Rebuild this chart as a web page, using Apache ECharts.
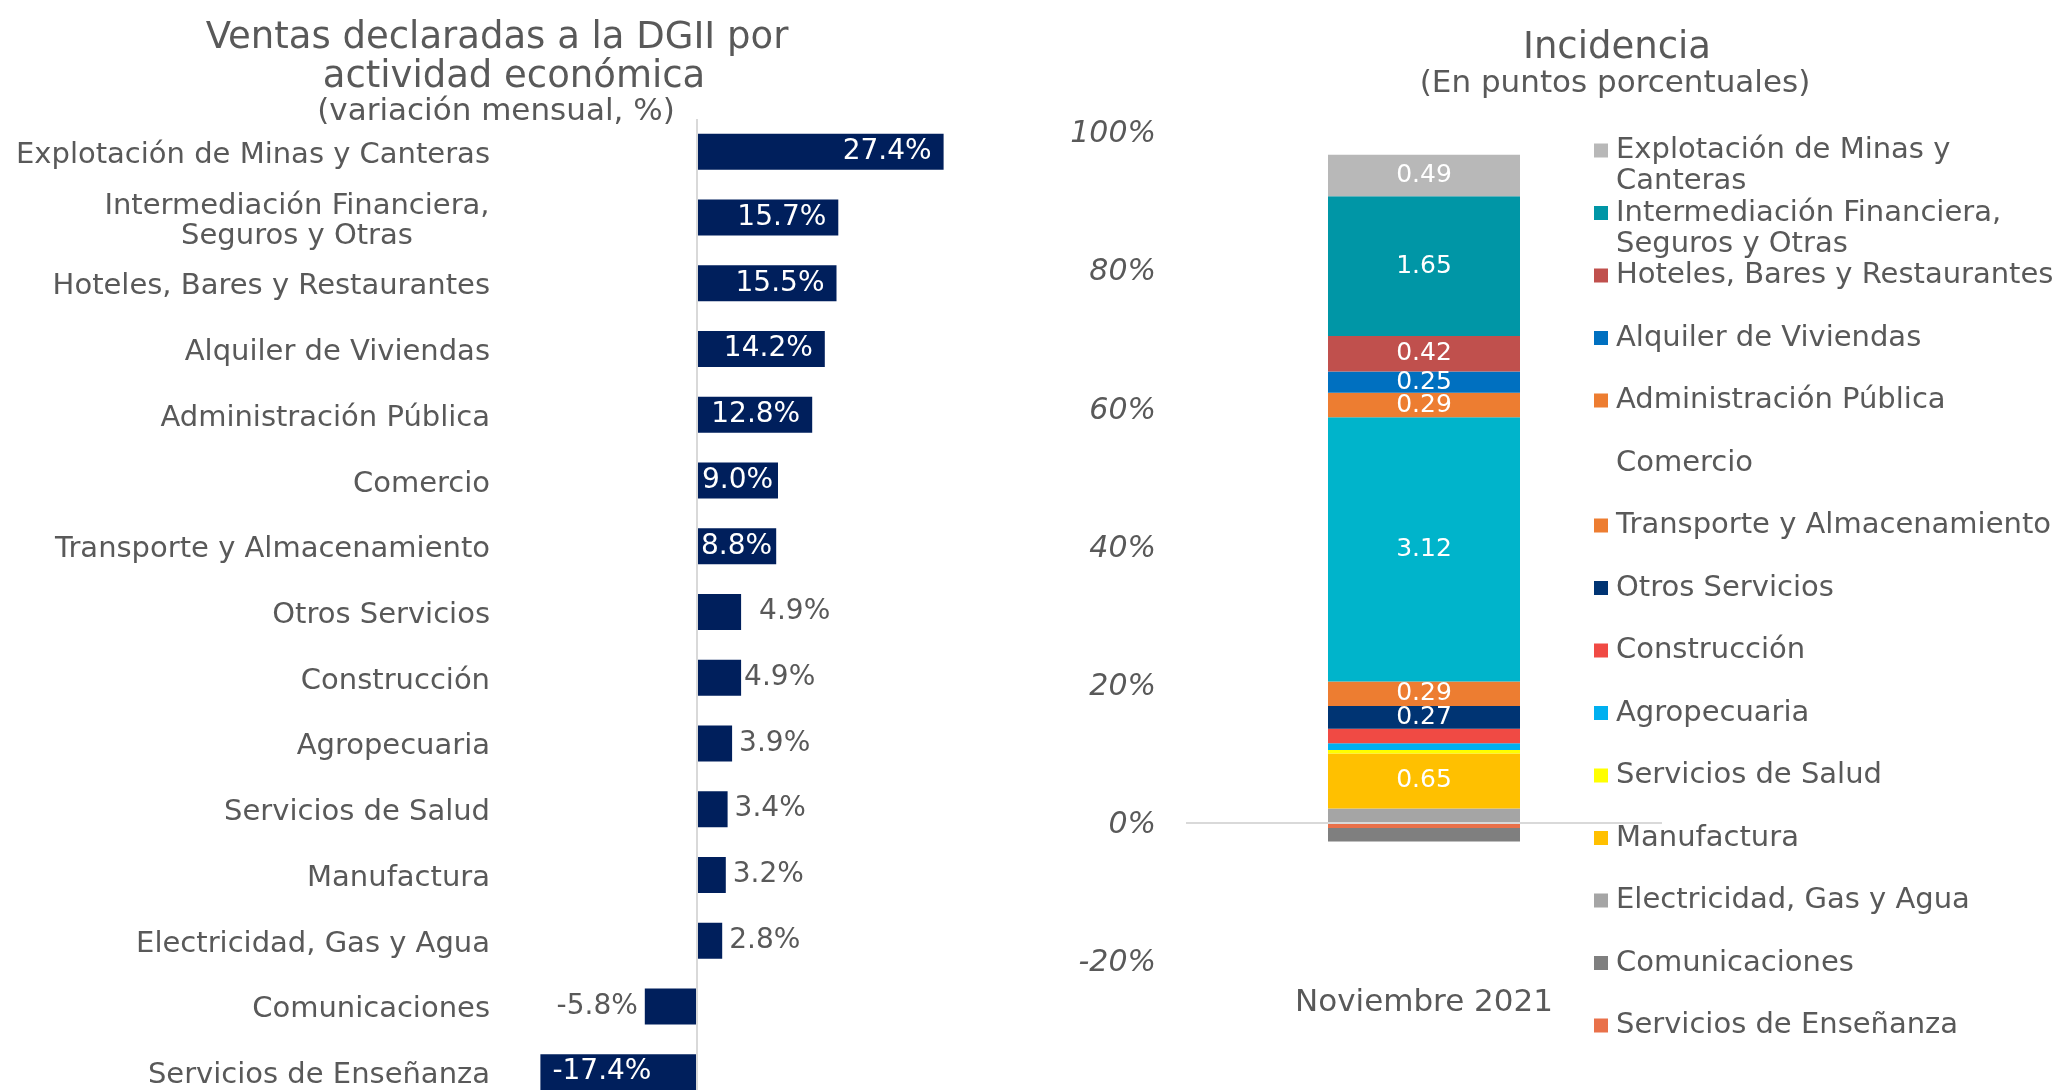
<!DOCTYPE html>
<html>
<head>
<meta charset="utf-8">
<title>Ventas declaradas a la DGII</title>
<script src="https://cdn.jsdelivr.net/npm/echarts@6/dist/echarts.min.js"></script>
<style>
  html, body { margin: 0; padding: 0; background: #fff; }
  #chart { width: 2059px; height: 1090px; }
</style>
</head>
<body>
<div id="chart"></div>
<script>
// ventas declaradas por actividad (variación mensual, %)
var sectores = [
  'Explotación de Minas y Canteras',
  'Intermediación Financiera, Seguros y Otras',
  'Hoteles, Bares y Restaurantes',
  'Alquiler de Viviendas',
  'Administración Pública',
  'Comercio',
  'Transporte y Almacenamiento',
  'Otros Servicios',
  'Construcción',
  'Agropecuaria',
  'Servicios de Salud',
  'Manufactura',
  'Electricidad, Gas y Agua',
  'Comunicaciones',
  'Servicios de Enseñanza'
];
var variacion = [27.4, 15.7, 15.5, 14.2, 12.8, 9.0, 8.8, 4.9, 4.9, 3.9, 3.4, 3.2, 2.8, -5.8, -17.4];

// incidencia en puntos porcentuales, en el orden de la leyenda
var incidenciaSectores = sectores.slice();
var incidencia = [0.49, 1.65, 0.42, 0.25, 0.29, 3.12, 0.29, 0.27, 0.17, 0.08, 0.04, 0.65, 0.17, -0.16, -0.06];
var incidenciaColores = ['#b8b8b8', '#0096a6', '#c0504d', '#0070c0', '#ed7d31', '#00b4cb', '#ed7d31',
  '#003473', '#f04a44', '#00b0f0', '#ffff00', '#ffc000', '#a5a5a5', '#7f7f7f', '#e9714a'];
var periodo = ['Noviembre 2021'];

// marcas del eje derecho (%) y puntos porcentuales que equivalen al 100%
var ticksPct = [-20, 0, 20, 40, 60, 80, 100];
var ppTotal = 8.16;

var FONT = 'DejaVu Sans';
var GRIS = '#595959';
var LH = 31; // interlineado de la leyenda

var saltos = {
  'Explotación de Minas y Canteras': ['Explotación de Minas y', 'Canteras'],
  'Intermediación Financiera, Seguros y Otras': ['Intermediación Financiera,', 'Seguros y Otras']
};

function medir(txt, size) {
  var ctx = document.createElement('canvas').getContext('2d');
  ctx.font = size + 'px "' + FONT + '"';
  return Math.ceil(ctx.measureText(txt).width);
}
var anchoInter = medir(saltos['Intermediación Financiera, Seguros y Otras'][0], 29);

var chart = echarts.init(document.getElementById('chart'));

var seriesInc = [];
for (var i = incidencia.length - 1; i >= 0; i--) {
  seriesInc.push({
    name: incidenciaSectores[i],
    type: 'bar',
    stack: 'inc',
    xAxisIndex: 1,
    yAxisIndex: 1,
    barWidth: 192,
    data: [incidencia[i]],
    itemStyle: { color: incidenciaColores[i] },
    label: {
      show: Math.abs(incidencia[i]) >= 0.2,
      color: '#fff',
      fontFamily: FONT,
      fontSize: 25,
      formatter: function (p) { return p.value.toFixed(2); }
    }
  });
}
// linea del cero por encima de la pila
seriesInc[seriesInc.length - 1].markLine = {
  silent: true,
  symbol: 'none',
  label: { show: false },
  lineStyle: { color: '#d9d9d9', width: 2, type: 'solid' },
  data: [{ yAxis: 0 }]
};

var paso = (ticksPct[1] - ticksPct[0]) / 100 * ppTotal;

var option = {
  animation: false,
  backgroundColor: '#fff',
  textStyle: { fontFamily: FONT },
  title: [
    { text: 'Ventas declaradas a la DGII por', left: 492, top: 13, textAlign: 'center',
      textStyle: { fontSize: 37, fontWeight: 'normal', color: GRIS, lineHeight: 40 } },
    { text: 'actividad económica', left: 509, top: 52, textAlign: 'center',
      textStyle: { fontSize: 37, fontWeight: 'normal', color: GRIS, lineHeight: 40 } },
    { text: '(variación mensual, %)', left: 491, top: 89, textAlign: 'center',
      textStyle: { fontSize: 31, fontWeight: 'normal', color: GRIS, lineHeight: 36 } },
    { text: 'Incidencia', left: 1612, top: 23, textAlign: 'center',
      textStyle: { fontSize: 37, fontWeight: 'normal', color: GRIS, lineHeight: 40 } },
    { text: '(En puntos porcentuales)', left: 1610, top: 61, textAlign: 'center',
      textStyle: { fontSize: 31, fontWeight: 'normal', color: GRIS, lineHeight: 36 } }
  ],
  legend: {
    orient: 'vertical',
    left: 1594,
    top: 104,
    padding: 0,
    itemWidth: 14,
    itemHeight: 14,
    itemGap: 62.5 - 3 * LH,
    icon: 'rect',
    selectedMode: false,
    textStyle: { fontFamily: FONT, fontSize: 29, color: GRIS, lineHeight: LH },
    // linea vacia arriba para que el cuadro quede junto a la primera linea
    formatter: function (name) { return saltos[name] ? '\n' + saltos[name].join('\n') : name; },
    data: incidenciaSectores.map(function (name) {
      var it = {
        name: name,
        textStyle: {
          padding: saltos[name] ? [0, 0, 0, 3] : [LH, 0, LH, 3],
          backgroundColor: 'rgba(255,255,255,0)'
        }
      };
      if (name === 'Comercio') it.itemStyle = { color: 'rgba(0,0,0,0)', borderWidth: 0 };
      return it;
    })
  },
  grid: [
    { left: 517, top: 119, width: 450, height: 986, outerBoundsMode: 'none', containLabel: false },
    { left: 1186, top: 132, width: 476, height: 829, outerBoundsMode: 'none', containLabel: false }
  ],
  xAxis: [
    { type: 'value', gridIndex: 0, min: -20, max: 30, show: false },
    {
      type: 'category', gridIndex: 1, data: periodo,
      axisLine: { show: false, onZero: false }, axisTick: { show: false },
      axisLabel: { color: GRIS, fontSize: 31, margin: 26 }
    }
  ],
  yAxis: [
    {
      type: 'category', gridIndex: 0, data: sectores, inverse: true,
      axisLine: { show: false }, axisTick: { show: false },
      axisLabel: {
        color: GRIS, fontSize: 29, margin: 27, lineHeight: 30, padding: [7, 0, 0, 0],
        formatter: function (v) {
          if (v === 'Intermediación Financiera, Seguros y Otras') {
            return '{c|' + saltos[v][0] + '}\n{c|' + saltos[v][1] + '}';
          }
          return '{n|' + v + '}';
        },
        rich: {
          c: { width: anchoInter, align: 'center', color: GRIS, fontSize: 29, lineHeight: 30, fontFamily: FONT },
          n: { color: GRIS, fontSize: 29, lineHeight: 30, fontFamily: FONT }
        }
      }
    },
    {
      type: 'value', gridIndex: 1,
      min: ticksPct[0] / 100 * ppTotal,
      max: ticksPct[ticksPct.length - 1] / 100 * ppTotal,
      interval: paso,
      splitLine: { show: false }, axisLine: { show: false }, axisTick: { show: false },
      axisLabel: {
        color: GRIS, fontSize: 30, fontStyle: 'italic', margin: 30, padding: [5, 0, 0, 0],
        formatter: function (v) { return '{p|' + Math.round(v / ppTotal * 100) + '%}'; },
        rich: { p: { color: GRIS, fontSize: 30, fontStyle: 'italic', fontFamily: FONT, lineHeight: 32 } }
      }
    }
  ],
  series: [
    {
      type: 'bar',
      xAxisIndex: 0,
      yAxisIndex: 0,
      barWidth: 36,
      itemStyle: { color: '#001f5c' },
      data: variacion.map(function (v, i) {
        var pos, dist = 7, color = GRIS;
        if (v >= 12) { pos = 'insideRight'; dist = 12; color = '#fff'; }
        else if (v >= 8) { pos = 'inside'; color = '#fff'; }
        else if (v <= -10) { pos = 'insideLeft'; dist = 12; color = '#fff'; }
        else { pos = v > 0 ? 'right' : 'left'; }
        if (sectores[i] === 'Otros Servicios') dist = 18;
        if (sectores[i] === 'Construcción') dist = 3;
        return { value: v, label: { position: pos, color: color, distance: dist } };
      }),
      label: {
        show: true,
        fontFamily: FONT,
        fontSize: 28,
        formatter: function (p) { return p.value.toFixed(1) + '%'; }
      },
      markLine: {
        silent: true,
        symbol: 'none',
        label: { show: false },
        lineStyle: { color: '#d9d9d9', width: 2, type: 'solid' },
        data: [{ xAxis: 0 }]
      }
    }
  ].concat(seriesInc)
};

chart.setOption(option);
</script>
</body>
</html>
